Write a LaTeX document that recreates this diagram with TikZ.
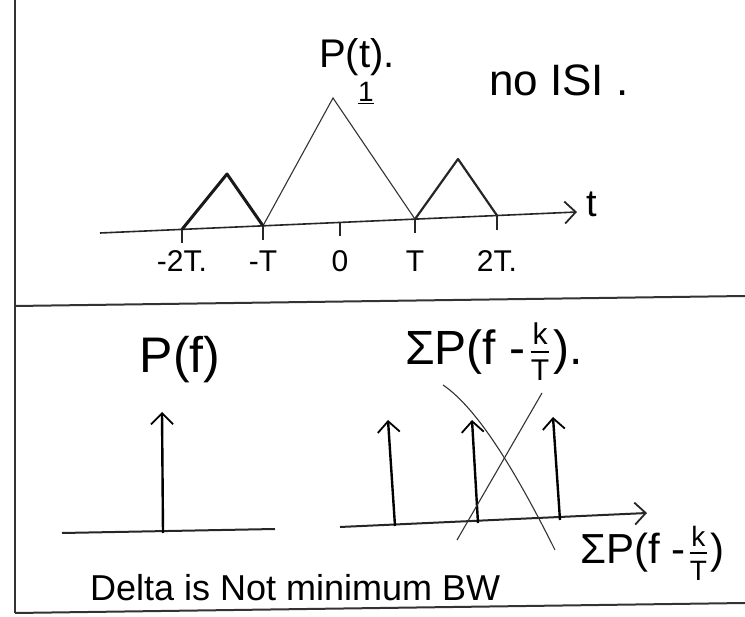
\documentclass[tikz,border=0pt]{standalone}
\usepackage{fontspec}
\setmainfont{Liberation Sans}
\usepackage{tikz}
\usetikzlibrary{arrows.meta, positioning}

\tikzset{
  ink/.style={line width=1.6pt, black!85},
  thinink/.style={line width=1.1pt, black!80},
  fatink/.style={line width=3pt, black!90},
  frame/.style={line width=2pt, black!80},
  hand/.style={inner sep=0pt, font=\fontsize{#1}{#1}\selectfont},
  fracbox/.style={hand=30, align=center},
  barb/.style={-{Straight Barb[length=11pt, width=22pt, line width=1.8pt]}},
  spike/.style={line width=2.4pt, barb},
}

\begin{document}
\begin{tikzpicture}[x=1pt, y=-1pt]
\useasboundingbox (0,0) rectangle (745,617);

% frame of the page
\draw[frame] (15,0) -- (15,613);
\draw[frame] (15,306) -- (745,296);
\draw[frame] (15,613) -- (745,603);

% ---- time domain: p(t) ----
\coordinate (tstart) at (100,233);
\coordinate (tend) at (577,212);
\draw[ink, barb] (tstart) -- (tend);
\node[hand=38] (tlab) at (592,204) {t};

\foreach \x/\lab/\nm in {182/{-2T.}/mtwo, 263/{-T}/mone, 340/{0}/zero, 415/{T}/pone, 497/{2T.}/ptwo}{
  \pgfmathsetmacro\ty{233-0.044*(\x-100)}
  \coordinate (\nm) at (\x,\ty);
  \draw[ink] (\nm) -- ++(0,14);
  \node[hand=30] (l\nm) at (\x,261) {\lab};
}

\coordinate (peak) at (333,98);
\coordinate (lpeak) at (227,174);
\coordinate (rpeak) at (458,159);
\draw[thinink] (mone) -- (peak) -- (pone);
\draw[fatink, line join=round] (mtwo) -- (lpeak) -- (mone);
\draw[ink, line width=2.2pt, line join=round] (pone) -- (rpeak) -- (ptwo);

\node[hand=40] (ptlab) at (357,57) {P(t).};
\node[hand=28] (onelab) at (366,93) {\underline{1}};
\node[hand=44] (isi) at (559,80) {no ISI .};

% ---- frequency domain: P(f) ----
\coordinate (fa) at (62,533);
\coordinate (fb) at (275,529);
\draw[ink, line width=2pt] (fa) -- (fb);
\coordinate (dbase) at (163,533);
\coordinate (dtop) at (162,412);
\draw[spike] (dbase) -- (dtop);
\node[hand=50] (pflab) at (180,360) {P(f)};

% ---- sum of shifted copies ----
\coordinate (sa) at (340,527);
\coordinate (sb) at (647,513);
\draw[ink, line width=2pt, barb] (sa) -- (sb);
\foreach \bx/\by/\tx/\tyy/\nm in {395/526/388/420/sone, 478/523/472/420/stwo, 560/520/553/417/sthree}{
  \coordinate (\nm) at (\bx,\by);
  \draw[spike] (\nm) -- (\tx,\tyy);
}

% crossed out
\coordinate (xa) at (443,385);
\coordinate (xb) at (555,550);
\coordinate (xc) at (542,393);
\coordinate (xd) at (457,540);
\draw[thinink] (xa) .. controls (480,410) and (520,480) .. (xb);
\draw[thinink] (xc) -- (xd);

% sum labels, the fraction k/T stacked
\node[hand=48, anchor=west] (sumtop) at (405,352) {ΣP(f\ -};
\node[fracbox, right=5pt of sumtop] (ktop) {k\\[6pt]T};
\draw[line width=1.6pt] (ktop.west) -- (ktop.east);
\node[hand=48, right=4pt of ktop] (closetop) {).};

\node[hand=42, anchor=west] (sumbot) at (580,553) {ΣP(f\ -};
\node[fracbox, hand=28, right=4pt of sumbot] (kbot) {k\\[6pt]T};
\draw[line width=1.6pt] (kbot.west) -- (kbot.east);
\node[hand=42, right=3pt of kbot] (closebot) {)};

\node[hand=36, anchor=base west] (note) at (90,601) {Delta is Not minimum BW};
\end{tikzpicture}
\end{document}
